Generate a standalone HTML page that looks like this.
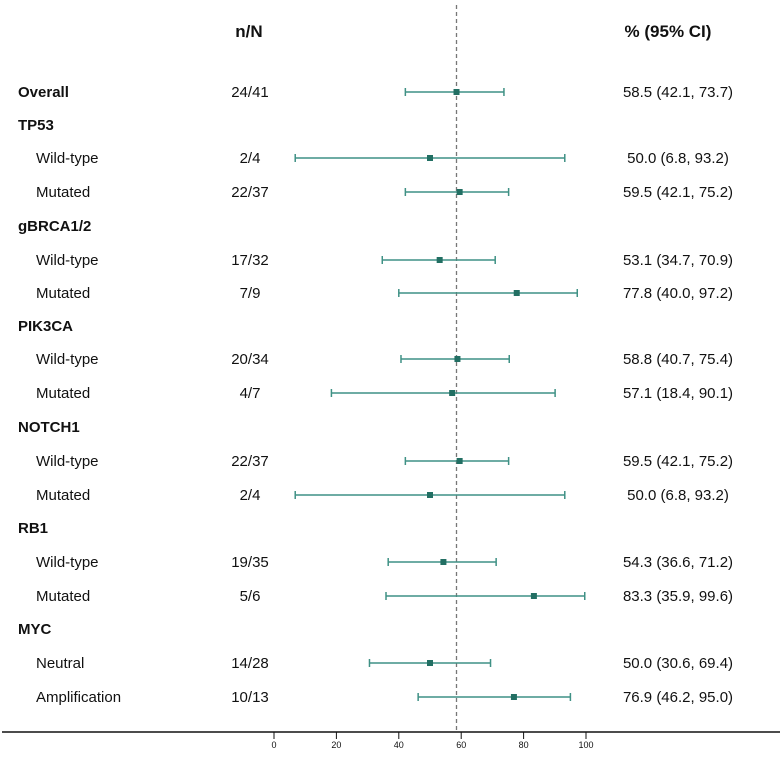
<!DOCTYPE html>
<html><head><style>
body{margin:0;background:#fff;}
svg text{font-family:"Liberation Sans",Arial,sans-serif;fill:#111;}
</style></head><body>
<svg width="782" height="752" xmlns="http://www.w3.org/2000/svg">
<text x="249" y="37" font-size="17" font-weight="bold" text-anchor="middle">n/N</text>
<text x="668" y="37" font-size="17" font-weight="bold" text-anchor="middle">% (95% CI)</text>
<line x1="456.5" y1="5" x2="456.5" y2="732" stroke="#777" stroke-width="1.3" stroke-dasharray="4,3"/>
<line x1="2" y1="732" x2="780" y2="732" stroke="#111" stroke-width="1.5"/>
<g stroke="#111" stroke-width="1">
<line x1="274" y1="732" x2="274" y2="739"/><line x1="336.4" y1="732" x2="336.4" y2="739"/><line x1="398.8" y1="732" x2="398.8" y2="739"/><line x1="461.2" y1="732" x2="461.2" y2="739"/><line x1="523.6" y1="732" x2="523.6" y2="739"/><line x1="586" y1="732" x2="586" y2="739"/>
</g>
<g font-size="9" text-anchor="middle">
<text x="274" y="748">0</text><text x="336.4" y="748">20</text><text x="398.8" y="748">40</text><text x="461.2" y="748">60</text><text x="523.6" y="748">80</text><text x="586" y="748">100</text>
</g>
<g id="rows" font-size="15"></g>
<script>
const rows=[
["Overall",1,92,"24/41",58.5,42.1,73.7],
["TP53",1,125],
["Wild-type",0,158,"2/4",50.0,6.8,93.2],
["Mutated",0,192,"22/37",59.5,42.1,75.2],
["gBRCA1/2",1,226],
["Wild-type",0,260,"17/32",53.1,34.7,70.9],
["Mutated",0,293,"7/9",77.8,40.0,97.2],
["PIK3CA",1,326],
["Wild-type",0,359,"20/34",58.8,40.7,75.4],
["Mutated",0,393,"4/7",57.1,18.4,90.1],
["NOTCH1",1,427],
["Wild-type",0,461,"22/37",59.5,42.1,75.2],
["Mutated",0,495,"2/4",50.0,6.8,93.2],
["RB1",1,528],
["Wild-type",0,562,"19/35",54.3,36.6,71.2],
["Mutated",0,596,"5/6",83.3,35.9,99.6],
["MYC",1,629],
["Neutral",0,663,"14/28",50.0,30.6,69.4],
["Amplification",0,697,"10/13",76.9,46.2,95.0]];
const g=document.getElementById('rows');const ns="http://www.w3.org/2000/svg";
function el(t,a,txt){const e=document.createElementNS(ns,t);for(const k in a)e.setAttribute(k,a[k]);if(txt!==undefined)e.textContent=txt;g.appendChild(e);return e;}
const X=v=>274+3.12*v;
for(const r of rows){const y=r[2];
 el('text',{x:r[1]?18:36,y:y+5,'font-weight':r[1]?'bold':'normal'},r[0]);
 if(r[3]){el('text',{x:250,y:y+5,'text-anchor':'middle'},r[3]);
  el('text',{x:678,y:y+5,'text-anchor':'middle'},r[4].toFixed(1)+" ("+r[5].toFixed(1)+", "+r[6].toFixed(1)+")");
  const a=X(r[5]),b=X(r[6]),m=X(r[4]);
  el('line',{x1:a,y1:y,x2:b,y2:y,stroke:'#3f9185','stroke-width':1.5});
  el('line',{x1:a,y1:y-4,x2:a,y2:y+4,stroke:'#3f9185','stroke-width':1.5});
  el('line',{x1:b,y1:y-4,x2:b,y2:y+4,stroke:'#3f9185','stroke-width':1.5});
  el('rect',{x:m-3,y:y-3,width:6,height:6,fill:'#226f63'});
 }}
</script>
</svg>
</body></html>
